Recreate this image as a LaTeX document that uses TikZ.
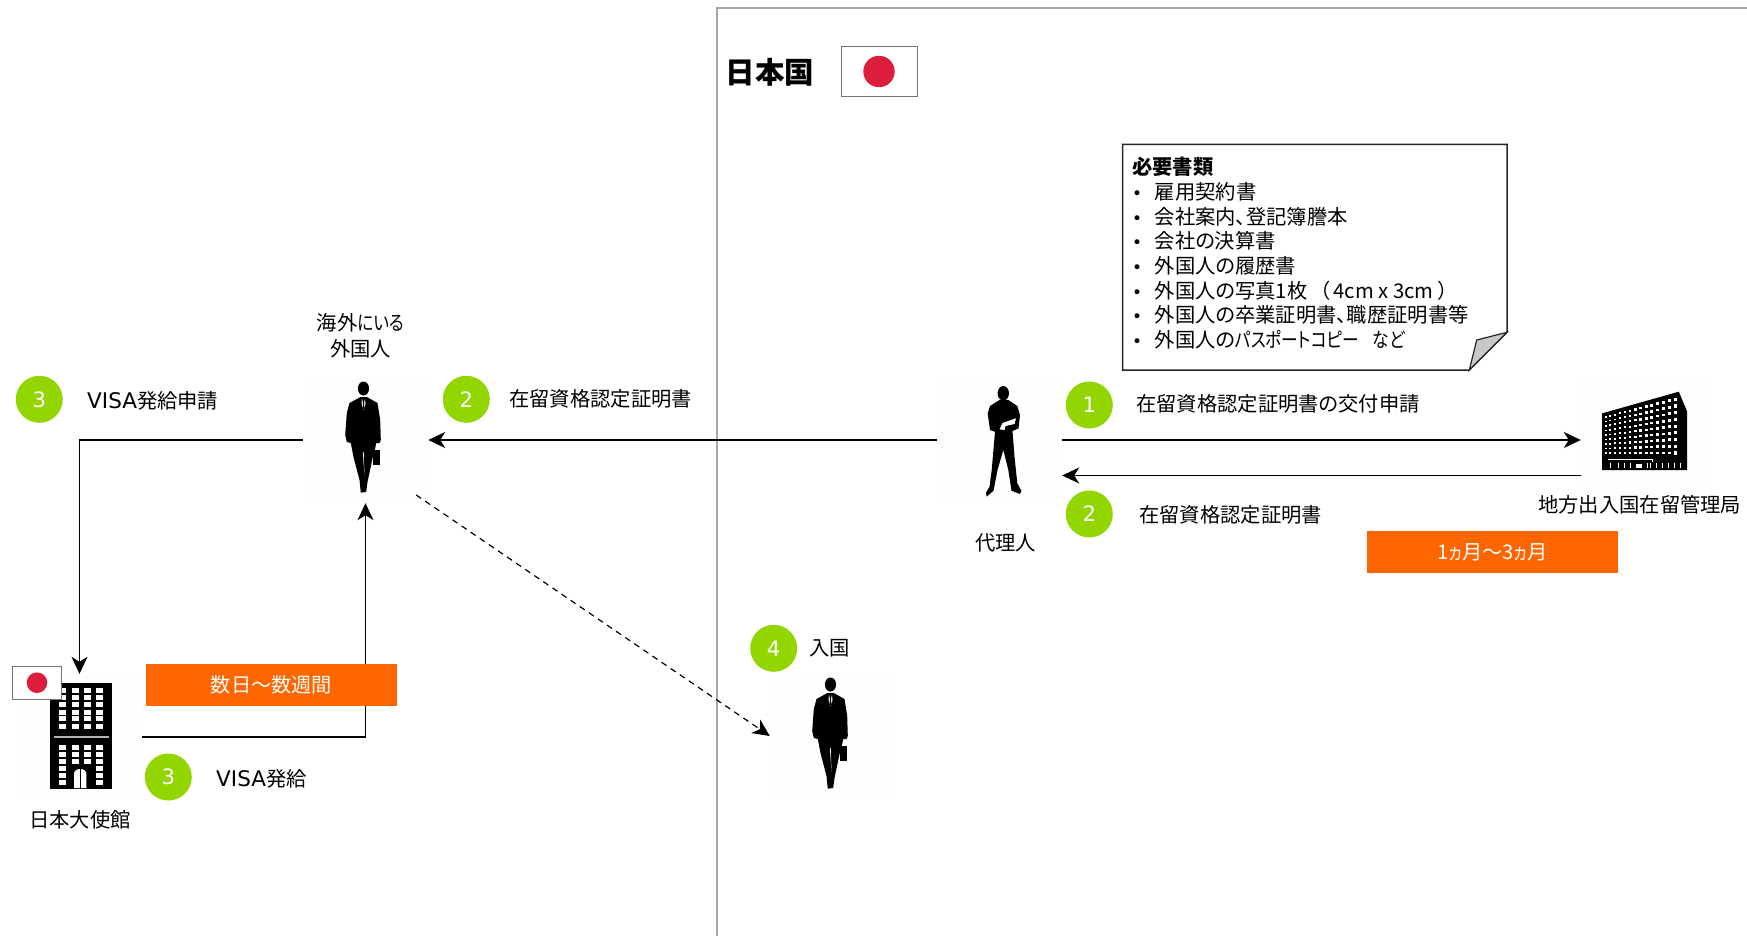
\documentclass[tikz,border=0pt]{standalone}
\usepackage{fontspec}
\setmainfont{Noto Sans CJK JP}[RawFeature=+palt]
\newfontfamily\lat{DejaVu Sans}[Scale=1.06]
\newfontfamily\kana{Noto Sans CJK JP}[RawFeature=+palt, FakeStretch=0.82]
\usetikzlibrary{arrows.meta}
\definecolor{numgreen}{HTML}{92D500}
\definecolor{barorange}{HTML}{FF6600}
\definecolor{flagred}{HTML}{DC1E3C}
\definecolor{framegray}{HTML}{A6A6A6}
\definecolor{foldgray}{HTML}{C8C8C8}
\newcommand{\notedot}{\makebox[22.6pt][l]{\lat\fontsize{16}{16}\selectfont •}}

\tikzset{
    txtbase/.style={font=\fontsize{20.3}{25.6}\selectfont, inner sep=0pt},
    txtlabel/.style={txtbase, text height=17.7pt, text depth=2.3pt},
    numdot/.style={circle, fill=numgreen, text=white, minimum size=47pt, inner sep=0pt, font=\lat\fontsize{20}{20}\selectfont},
    orangebar/.style={fill=barorange, text=white, minimum width=251pt, minimum height=42pt, inner sep=0pt, font=\fontsize{20.2}{25.6}\selectfont},
    figbox/.style={fill=black!0.5, minimum width=125pt, minimum height=126pt, inner sep=0pt},
    flagbox/.style n args={3}{draw=black!55, line width=1pt, fill=white, minimum width=#1, minimum height=#2, inner sep=0pt,
        path picture={\fill[flagred] (path picture bounding box.center) circle (#3);}},
    % silhouettes, drawn around the centre of their figbox
    walkerfig/.pic={
        \fill[black] (-2,-51.5) ellipse [x radius=5.6, y radius=7];
        \fill[black] (-5,-43) -- (1.3,-43) -- (12,-37) -- (14.7,-20) -- (15.3,0) -- (14,3) -- (10.7,3)
            -- (9.7,8) -- (7.3,17) -- (2,42) -- (0.7,52) -- (-4.7,52.7) -- (-6,40) -- (-12,17)
            -- (-14.7,3) -- (-18.7,2) -- (-20.3,-5) -- (-18.7,-27) -- (-16,-37) -- cycle;
        \fill[black] (7.3,10) rectangle (14.7,25);
        \fill[white] (-3.5,-41) -- (-2,-36) -- (-0.5,-41) -- (0,-36) -- (-2,-30) -- (-4,-36) -- cycle;
        \fill[black] (-2.6,-40) -- (-1.4,-40) -- (-1.2,-31) -- (-2.8,-31) -- cycle;
        \fill[white] (-2.6,12) -- (-1.8,12) -- (-1,36) -- cycle;
    },
    agentfig/.pic={
        \fill[black] (3.8,-46.7) ellipse [x radius=5.7, y radius=7.3];
        \fill[black] (0,-40) -- (8.8,-40) -- (17.8,-34) -- (20.5,-25) -- (19,-11.7) -- (13,-9) -- (15,16.7)
            -- (17.8,43.3) -- (21.8,50.7) -- (20.5,54) -- (12,50.7) -- (8.8,30) -- (3.8,10) -- (-2,30)
            -- (-6,50.7) -- (-12.8,56.7) -- (-13.5,52.7) -- (-10,46.7) -- (-7.8,30) -- (-4.5,-8.3)
            -- (-9.5,-10) -- (-11.8,-26.7) -- (-9.5,-34) -- cycle;
        \fill[white] (0,-10.7) -- (3,-17) -- (16.5,-21.7) -- (15,-16) -- (6,-14) -- (5,-10) -- cycle;
    },
    embassyfig/.pic={
        \fill[black] (-29.5,-53.7) rectangle (32,52.3);
        \fill[black!30] (-26,-0.7) rectangle (29,0.7);
        % windows
        \foreach \wx in {-17,-4.5,8,20}{
            \foreach \wy in {-47,-40,-33,-25,-18.7,-11}{
                \fill[white] (\wx-3.5,\wy-2.5) rectangle (\wx+3.5,\wy+2.5);
            }
            \foreach \wy in {10,17,24}{
                \fill[white] (\wx-3.5,\wy-2.5) rectangle (\wx+3.5,\wy+2.5);
            }
        }
        \foreach \wx in {-17,20}{
            \foreach \wy in {31,38,45}{
                \fill[white] (\wx-3.5,\wy-2.5) rectangle (\wx+3.5,\wy+2.5);
            }
        }
        % door
        \fill[white] (-5.5,51) -- (-5.5,36) arc [start angle=180, end angle=360, x radius=6.2, y radius=4] -- (7,51) -- cycle;
        \fill[black] (0.2,32) rectangle (1.4,51);
    },
    bureaufig/.pic={
        \fill[black] (-41.3,-26.7) -- (35.3,-48.3) -- (43.7,-28.3) -- (43.7,30) -- (-41.3,30) -- cycle;
        % windows
        \foreach \c in {0,...,13}{
            \foreach \r in {0,...,8}{
                \pgfmathsetmacro{\wx}{-38+\c*4.6+\c*\c*0.06}
                \pgfmathsetmacro{\wtop}{-23-(\wx+38)*0.253}
                \pgfmathsetmacro{\wy}{\wtop+\r*(13-\wtop)/8}
                \pgfmathsetmacro{\ws}{1+\c*0.07}
                \fill[white] (\wx-\ws,\wy-\ws*0.8) rectangle (\wx+\ws,\wy+\ws*0.8);
            }
        }
        % ground floor
        \draw[white, line width=0.8pt] (-36,19) -- (9,19) -- (9,22);
        \fill[white] (-8,24) rectangle (-2,28);
        \foreach \gx in {-34,-26,-20,-14,3,6,12,18,24,30,36}{
            \fill[white] (\gx,23) rectangle (\gx+1.4,28);
        }
    },
}

\begin{document}
\begin{tikzpicture}[x=1pt, y=-1pt, >={Stealth[length=17pt, width=16pt, inset=5pt]}]
    \useasboundingbox (0,0) rectangle (1747,936);

    % Japan panel
    \draw [color=framegray, line width=2pt] (717,936) -- (717,8) -- (1747,8);
    \node [font=\bfseries\fontsize{29.5}{29.5}\selectfont, inner sep=0pt] (japanname) at (770,72) {日本国};
    \node [flagbox={76pt}{50.5pt}{15.7pt}] (japanflag) at (879,71.5) {};

    % people and buildings
    \node [figbox] (foreigner) at (365.5,440) {};
    \node [figbox] (embassy) at (79.5,737) {};
    \node [figbox] (agent) at (999.5,440) {};
    \node [figbox] (bureau) at (1643.5,440) {};
    \node [figbox] (arrival) at (832.5,736) {};
    \pic at (foreigner) {walkerfig};
    \pic at (arrival) {walkerfig};
    \pic at (agent) {agentfig};
    \pic at (embassy) {embassyfig};
    \pic at (bureau) {bureaufig};
    \node [flagbox={49.5pt}{33pt}{10.3pt}] (embassyflag) at (37,682.7) {};

    \node [txtbase, align=center] (foreignername) at (360.5,335.5) {海外{\kana にいる}\\外国人};
    \node [txtlabel] (embassyname) at (80,820) {日本大使館};
    \node [txtlabel] (agentname) at (1005.7,542.3) {代理人};
    \node [txtlabel] (bureauname) at (1639.7,505) {地方出入国在留管理局};

    % connectors
    \begin{scope}[line width=1.5pt]
        \draw [->] (agent.east) -- (bureau.west);
        \draw [->] ([yshift=-35.5pt]bureau.west) -- ([yshift=-35.5pt]agent.east);
        \draw [->] (agent.west) -- (foreigner.east);
        \draw [->] (foreigner.west) -| (embassy.north);
        \draw [->] (embassy.east) -| (foreigner.south);
        \draw [->, line width=1.2pt, dash pattern=on 6pt off 5pt, shorten <=-14.6pt] (foreigner.south east) -- (arrival.west);
    \end{scope}

    % duration bars
    \node [orangebar] (overseasbar) at (271.5,684.8) {数日～数週間};
    \node [orangebar, text height=17.7pt, text depth=2.3pt] (japanbar) at (1492.5,551.8) {1{\kana ヵ}月～3{\kana ヵ}月};

    % step numbers
    \node [numdot] (stepone) at (1089.3,405) {1};
    \node [numdot] (steptwo) at (1089.3,514) {2};
    \node [numdot] (steptwoleft) at (466.3,399.3) {2};
    \node [numdot] (stepthree) at (39.3,399.3) {3};
    \node [numdot] (stepthreelow) at (168.3,777) {3};
    \node [numdot] (stepfour) at (773.7,648.3) {4};

    \node [txtlabel, anchor=west] (textone) at (1136,404) {在留資格認定証明書の交付申請};
    \node [txtlabel, anchor=west] (texttwo) at (1139,514.3) {在留資格認定証明書};
    \node [txtlabel, anchor=west] (texttwoleft) at (509,399) {在留資格認定証明書};
    \node [txtlabel, anchor=west] (textthree) at (87,400.7) {{\lat VISA}発給申請};
    \node [txtlabel, anchor=west] (textthreelow) at (216,778.3) {{\lat VISA}発給};
    \node [txtlabel, anchor=west] (textfour) at (809.3,647.3) {入国};

    % document note
    \draw [fill=white, draw=black!85, line width=1.5pt] (1122.7,144.3) -- (1507,144.3) -- (1507,332.3) -- (1469.3,370) -- (1122.7,370) -- cycle;
    \draw [fill=foldgray, draw=black!85, line width=1.2pt] (1507,332.3) -- (1476.7,340) -- (1469.3,370) -- cycle;
    \node [txtbase, align=left, anchor=north west, font=\fontsize{20.3}{24.7}\selectfont] (notetext) at (1132,157) {%
        \textbf{必要書類}\\
        \notedot 雇用契約書\\
        \notedot 会社案内、登記簿謄本\\
        \notedot 会社の決算書\\
        \notedot 外国人の履歴書\\
        \notedot 外国人の写真1枚\hspace{12pt}（\hspace{4pt}4cm x 3cm\hspace{5pt}）\\
        \notedot 外国人の卒業証明書、職歴証明書等\\
        \notedot 外国人の{\kana パスポートコピー}\hspace{14pt}{\kana など}};
\end{tikzpicture}
\end{document}
